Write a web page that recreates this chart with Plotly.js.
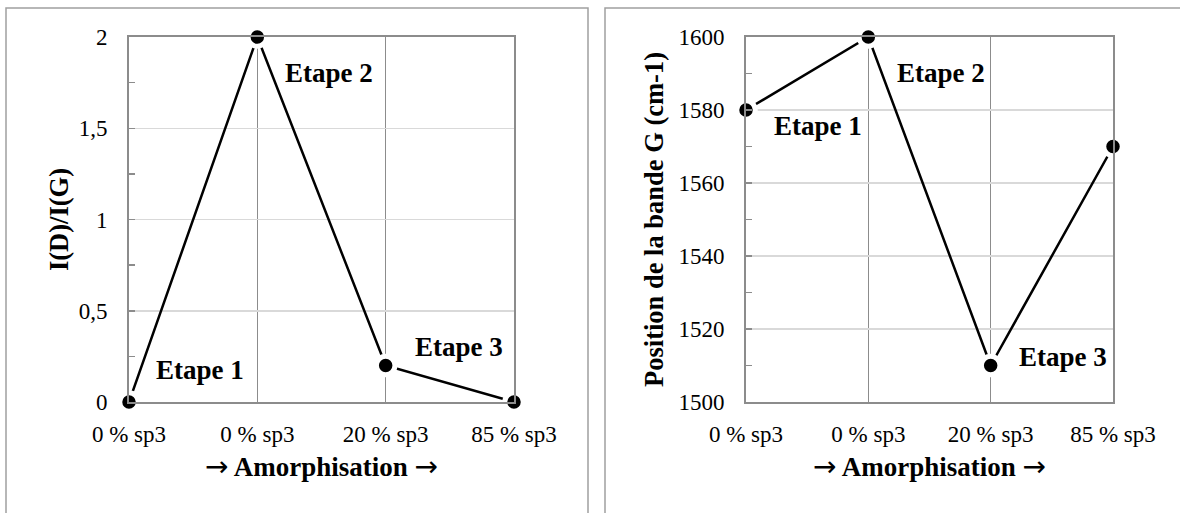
<!DOCTYPE html>
<html>
<head>
<meta charset="utf-8">
<script src="https://cdn.plot.ly/plotly-3.0.1.min.js"></script>
<style>html,body{margin:0;padding:0;background:#fff;}#chart{width:1180px;height:513px;}</style>
</head>
<body>
<div id="chart"></div>
<script>
// ---- data ----
const categoryLabels = ['0 % sp3', '0 % sp3', '20 % sp3', '85 % sp3'];
const categoryIndex = [0, 1, 2, 3];
const ratioIDIG = [0, 2, 0.2, 0];
const bandGPosition = [1580, 1600, 1510, 1570];
const leftYTickVals = [0, 0.5, 1, 1.5, 2];
const leftYTickText = ['0', '0,5', '1', '1,5', '2'];
const rightYTickVals = [1500, 1520, 1540, 1560, 1580, 1600];
const rightYTickText = ['1500', '1520', '1540', '1560', '1580', '1600'];
const stepLabels = ['Etape 1', 'Etape 2', 'Etape 3'];
const xTitleWord = 'Amorphisation';
const arrowGlyph = '→';
const leftYTitle = 'I(D)/I(G)';
const rightYTitle = 'Position de la bande G (cm-1)';

// ---- styling ----
const W = 1180, H = 513;
const FONT = '"Liberation Serif", "Times New Roman", serif';
const axisGray = '#8c8c8c';
const gridLight = '#d9d9d9';
const px = v => v / W;
const py = v => 1 - v / H;

const arrowSpan = '<span style="font-family:DejaVu Sans;font-weight:normal;font-size:28px">' + arrowGlyph + '</span>';
const xTitle = arrowSpan + ' ' + xTitleWord + ' ' + arrowSpan;

const traceStyle = {
  type: 'scatter', mode: 'lines+markers', cliponaxis: false, showlegend: false,
  line: {color: '#000', width: 2.5},
  marker: {color: '#000', size: 18.5, line: {color: '#fff', width: 5}},
  hoverinfo: 'x+y'
};

const traces = [
  Object.assign({}, traceStyle, {x: categoryIndex, y: ratioIDIG, xaxis: 'x', yaxis: 'y'}),
  Object.assign({}, traceStyle, {x: categoryIndex, y: bandGPosition, xaxis: 'x2', yaxis: 'y2'})
];

function xAxis(domain, anchor) {
  return {
    domain: domain, anchor: anchor, range: [0, 3],
    tickvals: categoryIndex, ticktext: categoryLabels,
    showgrid: true, gridcolor: axisGray, gridwidth: 1.5,
    showline: true, linecolor: axisGray, linewidth: 2, mirror: true,
    zeroline: false, ticks: '', ticklabelstandoff: 10,
    tickfont: {family: FONT, size: 23, color: '#000'},
    title: {text: xTitle, font: {family: FONT, size: 27, color: '#000', weight: 'bold'}, standoff: 12},
    fixedrange: true
  };
}
function yAxis(domain, anchor, range, vals, text, title, minorStep, standoff) {
  return {
    domain: domain, anchor: anchor, range: range,
    tickvals: vals, ticktext: text,
    showgrid: true, gridcolor: gridLight, gridwidth: 1.5,
    showline: true, linecolor: axisGray, linewidth: 2, mirror: true,
    zeroline: false, ticks: 'inside', ticklen: 6, tickwidth: 1.5, tickcolor: axisGray,
    minor: {ticks: 'inside', ticklen: 6, tickwidth: 1.5, tickcolor: axisGray, dtick: minorStep, tick0: range[0], showgrid: false},
    ticklabelstandoff: 15,
    tickfont: {family: FONT, size: 23, color: '#000'},
    title: {text: title, font: {family: FONT, size: 26.5, color: '#000', weight: 'bold'}, standoff: standoff},
    fixedrange: true
  };
}

const yDomain = [py(402), py(37)];
const annFont = {family: FONT, size: 27, color: '#000', weight: 'bold'};
function ann(xref, yref, x, y, text) {
  return {xref: xref, yref: yref, x: x, y: y, text: text, showarrow: false,
          xanchor: 'center', yanchor: 'middle', font: annFont};
}

const layout = {
  width: W, height: H,
  margin: {l: 0, r: 0, t: 0, b: 0},
  paper_bgcolor: '#fff', plot_bgcolor: '#fff',
  font: {family: FONT, color: '#000'},
  xaxis: xAxis([px(129), px(514)], 'y'),
  yaxis: yAxis(yDomain, 'x', [0, 2], leftYTickVals, leftYTickText, leftYTitle, 0.25, 2),
  xaxis2: xAxis([px(746), px(1113)], 'y2'),
  yaxis2: yAxis(yDomain, 'x2', [1500, 1600], rightYTickVals, rightYTickText, rightYTitle, 10, 7),
  shapes: [
    {type: 'rect', xref: 'paper', yref: 'paper', x0: px(6), x1: px(588), y0: -0.1, y1: py(8),
     line: {color: '#a0a0a0', width: 1.5}, layer: 'below'},
    {type: 'rect', xref: 'paper', yref: 'paper', x0: px(605), x1: 1.1, y0: -0.1, y1: py(8),
     line: {color: '#a0a0a0', width: 1.5}, layer: 'below'}
  ],
  annotations: [
    ann('x', 'y', 0.553, 0.175, stepLabels[0]),
    ann('x', 'y', 1.56, 1.805, stepLabels[1]),
    ann('x', 'y', 2.57, 0.30, stepLabels[2]),
    ann('x2', 'y2', 0.585, 1575.5, stepLabels[0]),
    ann('x2', 'y2', 1.59, 1590.1, stepLabels[1]),
    ann('x2', 'y2', 2.59, 1512.4, stepLabels[2])
  ]
};

Plotly.newPlot('chart', traces, layout, {displayModeBar: false, staticPlot: true});
</script>
</body>
</html>
